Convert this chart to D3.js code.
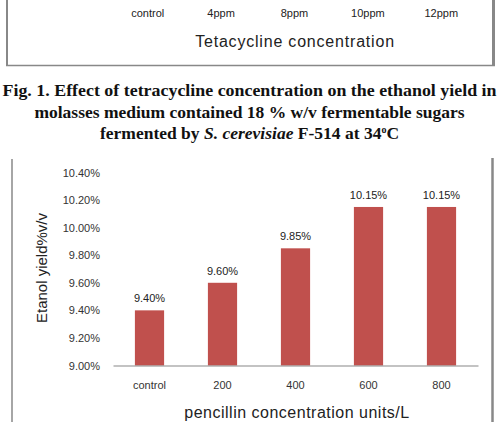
<!DOCTYPE html>
<html>
<head>
<meta charset="utf-8">
<script src="https://cdn.jsdelivr.net/npm/d3@7"></script>
<style>
  body { margin: 0; background: #fff; }
  svg { display: block; }
</style>
</head>
<body>
<svg id="chart" width="499" height="422"></svg>
<script>
// previous figure (cut off at the top)
const topCategories = ['control', '4ppm', '8ppm', '10ppm', '12ppm'];

// penicillin figure
const categories = ['control', '200', '400', '600', '800'];
const yields = [9.40, 9.60, 9.85, 10.15, 10.15];
const yTicks = [9.00, 9.20, 9.40, 9.60, 9.80, 10.00, 10.20, 10.40];

const captionLines = [
    'Fig. 1. Effect of tetracycline concentration on the ethanol yield in',
    'molasses medium contained 18 % w/v fermentable sugars'
];

const svg = d3.select('#chart');
const border = '#888888';

// ---- remains of the upper chart ----
svg.append('line').attr('x1', 7).attr('y1', 0).attr('x2', 7).attr('y2', 66)
    .attr('stroke', border).attr('stroke-width', 2);
svg.append('line').attr('x1', 493.5).attr('y1', 0).attr('x2', 493.5).attr('y2', 66)
    .attr('stroke', border).attr('stroke-width', 3);
svg.append('line').attr('x1', 6).attr('y1', 65.5).attr('x2', 495).attr('y2', 65.5)
    .attr('stroke', border).attr('stroke-width', 1.5);

const xTop = d3.scaleBand().domain(topCategories).range([111, 478]);
svg.append('g').selectAll('text')
    .data(topCategories)
    .enter().append('text')
    .attr('x', d => xTop(d) + xTop.bandwidth() / 2)
    .attr('y', 17)
    .attr('text-anchor', 'middle')
    .attr('font-family', 'Liberation Sans, Arial, sans-serif')
    .attr('font-size', '11px')
    .attr('fill', '#222')
    .text(d => d);

svg.append('text')
    .attr('x', 295).attr('y', 47)
    .attr('text-anchor', 'middle')
    .attr('font-family', 'Liberation Sans, Arial, sans-serif')
    .attr('font-size', '16px')
    .attr('letter-spacing', '0.8px')
    .attr('fill', '#222')
    .text('Tetacycline concentration');

// ---- caption ----
const cap = svg.append('g')
    .attr('font-family', 'Liberation Serif, Times New Roman, serif')
    .attr('font-weight', 'bold')
    .attr('font-size', '17.5px')
    .attr('fill', '#111')
    .attr('text-anchor', 'middle');
cap.append('text').attr('x', 249.5).attr('y', 96)
    .attr('textLength', 494).attr('lengthAdjust', 'spacingAndGlyphs')
    .text(captionLines[0]);
cap.append('text').attr('x', 249.5).attr('y', 118).text(captionLines[1]);
const l3 = cap.append('text').attr('x', 249.5).attr('y', 139);
l3.append('tspan').text('fermented by ');
l3.append('tspan').attr('font-style', 'italic').text('S. cerevisiae');
l3.append('tspan').text(' F-514 at 34');
l3.append('tspan').attr('font-size', '10px').attr('dy', -6).text('o');
l3.append('tspan').attr('dy', 6).text('C');

// ---- lower chart frame ----
svg.append('line').attr('x1', 12).attr('y1', 159).attr('x2', 12).attr('y2', 422)
    .attr('stroke', border).attr('stroke-width', 1.5);
svg.append('line').attr('x1', 492.5).attr('y1', 158).attr('x2', 492.5).attr('y2', 422)
    .attr('stroke', border).attr('stroke-width', 2.5);

// ---- bar chart ----
const x = d3.scaleBand().domain(categories).range([113, 478]).paddingInner(0.6).paddingOuter(0.3);
const y = d3.scaleLinear().domain([9.0, 10.4]).range([365.5, 172.5]);

const yAxis = svg.append('g')
    .attr('transform', 'translate(113,0)')
    .call(d3.axisLeft(y).tickValues(yTicks).tickSize(0).tickPadding(13)
        .tickFormat(d => d.toFixed(2) + '%'));
yAxis.select('.domain').remove();
yAxis.selectAll('text')
    .attr('font-family', 'Liberation Sans, Arial, sans-serif')
    .attr('font-size', '11px')
    .attr('fill', '#333');

svg.selectAll('.bar')
    .data(yields)
    .enter().append('rect')
    .attr('class', 'bar')
    .attr('x', (d, i) => x(categories[i]))
    .attr('y', d => y(d))
    .attr('width', x.bandwidth())
    .attr('height', d => y(9.0) - y(d))
    .attr('fill', '#C0504D');

svg.selectAll('.lbl')
    .data(yields)
    .enter().append('text')
    .attr('class', 'lbl')
    .attr('x', (d, i) => x(categories[i]) + x.bandwidth() / 2)
    .attr('y', d => y(d) - 8)
    .attr('text-anchor', 'middle')
    .attr('font-family', 'Liberation Sans, Arial, sans-serif')
    .attr('font-size', '11px')
    .attr('fill', '#222')
    .text(d => d.toFixed(2) + '%');

const xAxis = svg.append('g')
    .attr('transform', 'translate(0,' + y(9.0) + ')')
    .call(d3.axisBottom(x).tickSize(0).tickPadding(16).tickSizeOuter(0));
xAxis.select('.domain').attr('stroke', '#888').attr('stroke-width', 1.2);
xAxis.selectAll('text')
    .attr('font-family', 'Liberation Sans, Arial, sans-serif')
    .attr('font-size', '11px')
    .attr('fill', '#333');

svg.append('text')
    .attr('x', 297).attr('y', 418)
    .attr('text-anchor', 'middle')
    .attr('font-family', 'Liberation Sans, Arial, sans-serif')
    .attr('font-size', '16px')
    .attr('letter-spacing', '0.5px')
    .attr('fill', '#222')
    .text('pencillin concentration units/L');

svg.append('text')
    .attr('transform', 'translate(47,268) rotate(-90)')
    .attr('text-anchor', 'middle')
    .attr('font-family', 'Liberation Sans, Arial, sans-serif')
    .attr('font-size', '15px')
    .attr('fill', '#222')
    .text('Etanol yield%v/v');
</script>
</body>
</html>
